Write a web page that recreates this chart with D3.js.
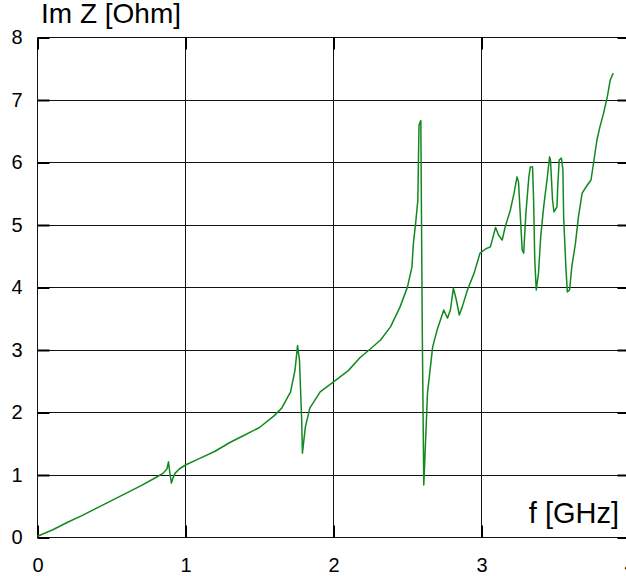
<!DOCTYPE html>
<html>
<head>
<meta charset="utf-8">
<script src="https://cdn.jsdelivr.net/npm/d3@7"></script>
<style>
  html, body { margin: 0; padding: 0; background: #fff; }
  svg { display: block; font-family: "Liberation Sans", Arial, sans-serif; }
</style>
</head>
<body>
<svg id="chart" width="626" height="576"></svg>
<script>
// Frequency sweep (GHz) and imaginary part of impedance (Ohm)
const freqGHz = [
  0.00, 0.10, 0.20, 0.30, 0.40, 0.50, 0.60, 0.70, 0.80, 0.85,
  0.875, 0.885, 0.895, 0.905, 0.915, 0.93, 0.96, 1.00, 1.10, 1.20,
  1.30, 1.40, 1.50, 1.60, 1.65, 1.71, 1.74, 1.757, 1.77, 1.785,
  1.79, 1.81, 1.84, 1.91, 2.00, 2.10, 2.18, 2.25, 2.318, 2.385,
  2.45, 2.50, 2.53, 2.54, 2.555, 2.57, 2.575, 2.578, 2.59, 2.60,
  2.61, 2.617, 2.635, 2.655, 2.67, 2.70, 2.745, 2.77, 2.79, 2.81,
  2.83, 2.85, 2.87, 2.905, 2.95, 2.99, 3.03, 3.06, 3.095, 3.115,
  3.14, 3.16, 3.195, 3.22, 3.24, 3.25, 3.265, 3.275, 3.285, 3.30,
  3.32, 3.33, 3.345, 3.352, 3.36, 3.37, 3.385, 3.40, 3.42, 3.445,
  3.46, 3.466, 3.48, 3.49, 3.51, 3.515, 3.525, 3.54, 3.55, 3.555,
  3.57, 3.58, 3.595, 3.61, 3.635, 3.655, 3.68, 3.715, 3.74, 3.76,
  3.78, 3.80, 3.825, 3.85, 3.87, 3.89
];
const imZ = [
  0.02, 0.12, 0.24, 0.35, 0.47, 0.59, 0.71, 0.83, 0.96, 1.03,
  1.10, 1.21, 1.02, 0.87, 0.95, 1.03, 1.10, 1.16, 1.27, 1.38,
  1.52, 1.64, 1.76, 1.95, 2.07, 2.33, 2.68, 3.07, 2.84, 1.88,
  1.35, 1.77, 2.07, 2.33, 2.49, 2.67, 2.88, 3.02, 3.16, 3.37,
  3.69, 4.01, 4.33, 4.71, 5.03, 5.40, 6.20, 6.60, 6.67, 3.27,
  0.84, 1.24, 2.31, 2.73, 3.05, 3.32, 3.64, 3.51, 3.64, 3.99,
  3.80, 3.56, 3.69, 3.96, 4.23, 4.55, 4.62, 4.65, 4.96, 4.84,
  4.76, 4.97, 5.24, 5.51, 5.77, 5.69, 5.03, 4.60, 4.55, 5.19,
  5.77, 5.93, 5.93, 5.40, 4.44, 3.96, 4.23, 4.81, 5.29, 5.77,
  6.09, 6.04, 5.40, 5.21, 5.29, 5.61, 6.04, 6.07, 5.88, 5.13,
  4.33, 3.93, 3.96, 4.33, 4.71, 5.13, 5.51, 5.64, 5.72, 6.04,
  6.36, 6.57, 6.79, 7.05, 7.32, 7.43
];
const xTicks = [0, 1, 2, 3, 4];
const yTicks = [0, 1, 2, 3, 4, 5, 6, 7, 8];
const yTitle = "Im Z [Ohm]";
const xTitle = "f [GHz]";

const svg = d3.select("#chart");
const plotLeft = 37.5, plotRight = 629.5, plotTop = 37.5, plotBottom = 537.5;

const x = d3.scaleLinear().domain([0, 4]).range([plotLeft, plotRight]);
const y = d3.scaleLinear().domain([0, 8]).range([plotBottom, plotTop]);

// grid lines
const grid = svg.append("g").attr("stroke", "#111").attr("stroke-width", 1).attr("shape-rendering", "crispEdges");
grid.selectAll("line.v").data(xTicks).join("line").attr("class", "v")
  .attr("x1", d => x(d)).attr("x2", d => x(d))
  .attr("y1", plotTop).attr("y2", plotBottom);
grid.selectAll("line.h").data(yTicks).join("line").attr("class", "h")
  .attr("x1", plotLeft).attr("x2", plotRight)
  .attr("y1", d => y(d)).attr("y2", d => y(d));

// inward tick marks on all four sides
const tickLen = 12;
const yAxisL = d3.axisLeft(y).tickValues(yTicks).tickSizeInner(-tickLen).tickSizeOuter(0).tickFormat(d3.format("d")).tickPadding(15);
const yAxisR = d3.axisRight(y).tickValues(yTicks).tickSizeInner(-tickLen).tickSizeOuter(0).tickFormat("");
const xAxisB = d3.axisBottom(x).tickValues(xTicks).tickSizeInner(-tickLen).tickSizeOuter(0).tickFormat(d3.format("d")).tickPadding(20);
const xAxisT = d3.axisTop(x).tickValues(xTicks).tickSizeInner(-tickLen).tickSizeOuter(0).tickFormat("");

function styleAxis(g) {
  g.select(".domain").remove();
  g.selectAll(".tick line").attr("stroke", "#000").attr("stroke-width", 2);
  g.selectAll(".tick text").attr("fill", "#000").attr("font-size", 20)
    .attr("font-family", "'Liberation Sans', Arial, sans-serif");
}
svg.append("g").attr("transform", `translate(${plotLeft},0)`).call(yAxisL).call(styleAxis);
svg.append("g").attr("transform", `translate(${plotRight},0)`).call(yAxisR).call(styleAxis);
svg.append("g").attr("transform", `translate(0,${plotBottom})`).call(xAxisB).call(styleAxis);
svg.append("g").attr("transform", `translate(0,${plotTop})`).call(xAxisT).call(styleAxis);

// data curve
const line = d3.line().x((d, i) => x(freqGHz[i])).y(d => y(d));
svg.append("path")
  .datum(imZ)
  .attr("fill", "none")
  .attr("stroke", "#12891f")
  .attr("stroke-width", 1.5)
  .attr("stroke-linejoin", "round")
  .attr("d", line);

// axis titles
svg.append("text").attr("x", 41).attr("y", 23)
  .attr("font-size", 28).attr("fill", "#000").text(yTitle);
svg.append("text").attr("x", 619).attr("y", 523)
  .attr("text-anchor", "end")
  .attr("font-size", 29).attr("fill", "#000").text(xTitle);
</script>
</body>
</html>
